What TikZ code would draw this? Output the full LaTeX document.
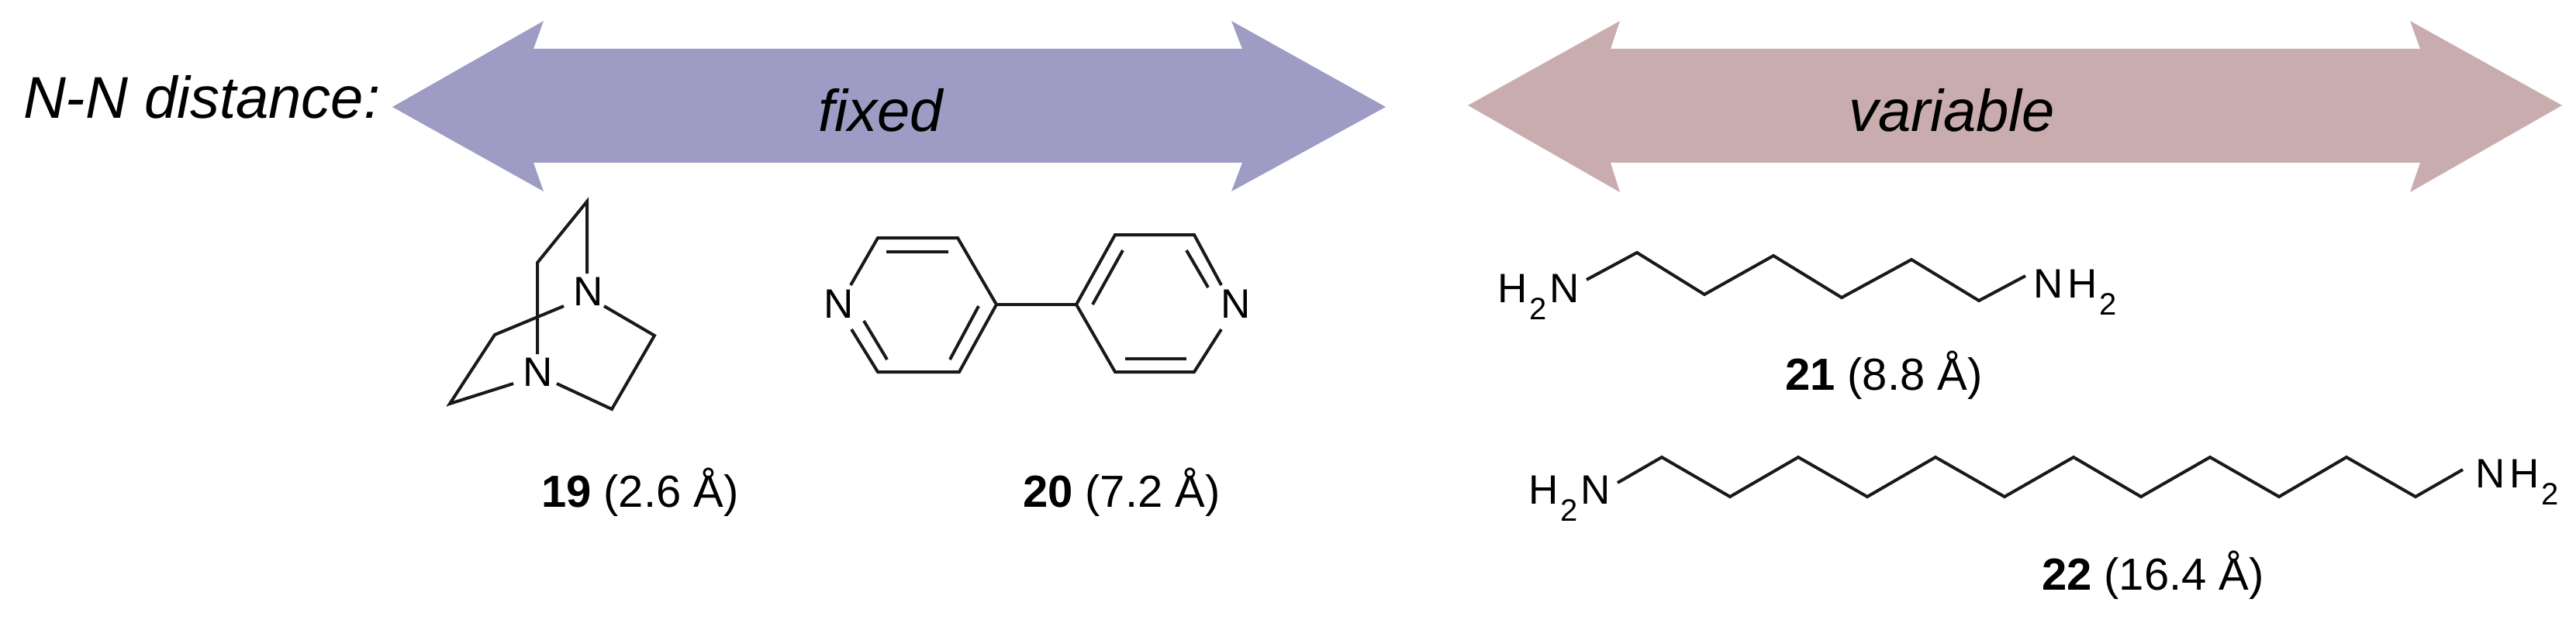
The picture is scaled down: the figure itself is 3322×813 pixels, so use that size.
\documentclass[tikz,border=0pt]{standalone}
\usepackage{fontspec}
\setmainfont{Liberation Sans}
\definecolor{fixedblue}{HTML}{9E9CC4}
\definecolor{varred}{HTML}{C9ADAE}
\newcommand{\fs}[1]{\fontsize{#1}{#1}\selectfont}
\newcommand{\subtwo}{\raisebox{-22pt}{\fs{40}2}}
\tikzset{
  x=1pt,y=-1pt,
  txt/.style={inner sep=0pt,outer sep=0pt,anchor=base west,text=black},
  band/.style={fill=#1,draw=none},
  heading/.style={txt,font=\fs{76}\itshape},
  caption/.style={txt,font=\fs{58}},
  atom/.style={txt,font=\fs{53}},
  bond/.style={draw=black!90,line width=4pt,line join=miter}
}
\begin{document}
\begin{tikzpicture}
\useasboundingbox (0,0) rectangle (3322,813);
% arrows
\path[band=fixedblue] (506,138) -- (701,27) -- (688,63) -- (1602,63) -- (1588,27) -- (1787,138) -- (1588,247) -- (1602,210) -- (688,210) -- (701,247) -- cycle;
\path[band=varred] (1893,136) -- (2089,27) -- (2077,63) -- (3121,63) -- (3108,27) -- (3304,136) -- (3108,248) -- (3121,210) -- (2077,210) -- (2089,248) -- cycle;
\node[heading] (nn) at (30,153) {N-N distance:};
\node[heading] (fixed) at (1055,170) {fixed};
\node[heading] (variable) at (2384,170) {variable};
% 19
\path[bond] (757,353) -- (757,260) -- (693,339) -- (693,457);
\path[bond] (727,395) -- (638,432) -- (580,521) -- (662,495);
\path[bond] (779,395) -- (844,433) -- (789,528) -- (718,495);
\node[atom,anchor=center] (n1) at (759,376) {N};
\node[atom,anchor=center] (n2) at (694,480) {N};
\node[caption] (c19) at (698,654) {\textbf{19} (2.6 Å)};
% 20
\path[bond] (1097,368) -- (1132,307) -- (1235,307) -- (1285,393) -- (1237,480) -- (1132,480) -- (1098,425);
\path[bond] (1143,325) -- (1223,325);
\path[bond] (1262,395) -- (1225,464);
\path[bond] (1114,414) -- (1144,464);
\path[bond] (1285,393) -- (1388,393);
\path[bond] (1575,368) -- (1540,303) -- (1438,303) -- (1388,393) -- (1438,480) -- (1540,480) -- (1575,425);
\path[bond] (1448,323) -- (1409,393);
\path[bond] (1530,323) -- (1558,371);
\path[bond] (1451,463) -- (1530,463);
\node[atom,anchor=center] (n3) at (1082,392) {N};
\node[atom,anchor=center] (n4) at (1594,392) {N};
\node[caption] (c20) at (1319,654) {\textbf{20} (7.2 Å)};
% 21
\path[bond] (2046,361) -- (2111,326) -- (2198,380) -- (2287,330) -- (2375,384) -- (2465,335) -- (2552,388) -- (2612,356);
\node[atom] (a21l) at (1931,390) {H\kern3pt\subtwo\kern4ptN};
\node[atom] (a21r) at (2622,384) {N\kern6ptH\kern3pt\subtwo};
\node[caption] (c21) at (2302,503) {\textbf{21} (8.8 Å)};
% 22
\path[bond] (2086,623) -- (2143,590) -- (2231,641) -- (2319,590) -- (2408,641) -- (2496,590) -- (2585,641) -- (2674,590) -- (2761,641) -- (2850,590) -- (2939,641) -- (3026,590) -- (3115,641) -- (3176,606);
\node[atom] (a22l) at (1971,650) {H\kern3pt\subtwo\kern4ptN};
\node[atom] (a22r) at (3192,629) {N\kern6ptH\kern3pt\subtwo};
\node[caption] (c22) at (2633,761) {\textbf{22} (16.4 Å)};
\end{tikzpicture}
\end{document}
